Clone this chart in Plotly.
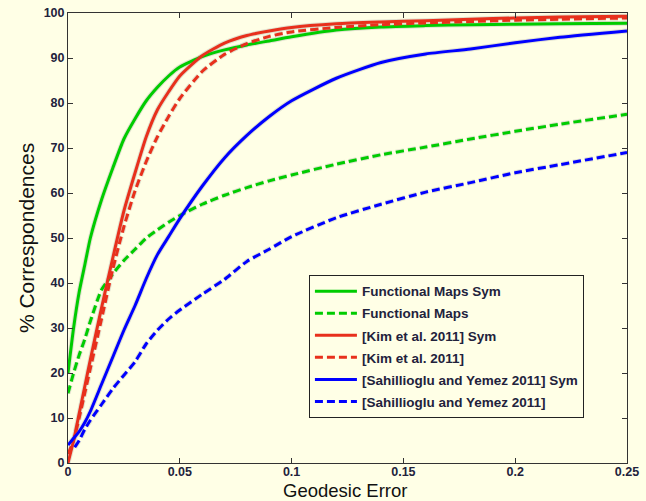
import plotly.graph_objects as go

x_common = [0, 0.0025, 0.005, 0.0075, 0.01, 0.015, 0.02, 0.025, 0.03, 0.035, 0.04, 0.045,
            0.05, 0.06, 0.07, 0.08, 0.09, 0.1, 0.12, 0.14, 0.16, 0.18, 0.2, 0.22, 0.25]

fmaps_sym = [20, 30, 38, 44, 50, 58.5, 65.5, 72, 76.5, 80.5, 83.5, 86,
             88, 90.3, 91.8, 92.9, 93.8, 94.7, 96.2, 96.9, 97.2, 97.4, 97.5, 97.6, 97.7]
fmaps = [15.5, 20, 24, 27.5, 31.5, 38.5, 42, 45, 47.5, 50, 51.8, 53.5,
         55, 57.5, 59.5, 61.2, 62.7, 64, 66.4, 68.5, 70.2, 72, 73.7, 75.3, 77.5]
kim_sym = [0, 5, 11, 17, 23, 34.5, 45.5, 56, 64.5, 72.5, 78.5, 82.5,
           86, 90.5, 93.3, 95, 96, 96.8, 97.6, 98, 98.3, 98.6, 98.9, 99.1, 99.3]
kim = [2, 5, 10, 15.5, 21, 32, 43, 52.5, 60.5, 67, 72.5, 77,
       81, 87, 90.8, 93.2, 94.8, 95.8, 96.8, 97.4, 97.8, 98.1, 98.4, 98.6, 98.9]
sahil_sym = [4, 5.5, 7, 9, 11.5, 17.5, 23.5, 29.5, 35, 41, 46.3, 50.3,
             54.3, 61.5, 67.8, 72.8, 77, 80.5, 85.5, 89, 90.9, 92, 93.4, 94.6, 96]
x_sahil = [0.003, 0.005, 0.0075, 0.01, 0.015, 0.02, 0.025, 0.03, 0.035, 0.04, 0.045,
           0.05, 0.06, 0.07, 0.08, 0.09, 0.1, 0.12, 0.14, 0.16, 0.18, 0.2, 0.22, 0.25]
sahil = [3.5, 5, 7.5, 9.5, 13, 16.5, 19.5, 22.5, 26.5, 29.5, 32,
         34, 37.5, 40.8, 44.8, 47.5, 50.3, 54.5, 57.5, 60.2, 62.3, 64.5, 66.3, 69]

x_ticks = [0, 0.05, 0.1, 0.15, 0.2, 0.25]
x_tick_labels = ["0", "0.05", "0.1", "0.15", "0.2", "0.25"]
y_ticks = [0, 10, 20, 30, 40, 50, 60, 70, 80, 90, 100]

GREEN = "#00cc00"
RED = "#e8301c"
BLUE = "#0000ff"
BG = "#ffffe6"
TXT = "#22223c"
DASH = "8px,4px"
HALO = "rgba(190,190,180,0.45)"
FONT = "Liberation Sans, Arial"

series = [
    ("Functional Maps Sym", x_common, fmaps_sym, GREEN, "solid"),
    ("Functional Maps", x_common, fmaps, GREEN, DASH),
    ("[Kim et al. 2011] Sym", x_common, kim_sym, RED, "solid"),
    ("[Kim et al. 2011]", x_common, kim, RED, DASH),
    ("[Sahillioglu and Yemez 2011] Sym", x_common, sahil_sym, BLUE, "solid"),
    ("[Sahillioglu and Yemez 2011]", x_sahil, sahil, BLUE, DASH),
]

fig = go.Figure()
for name, xs, ys, col, dash in series:
    fig.add_trace(go.Scatter(x=xs, y=ys, mode="lines", showlegend=False, hoverinfo="skip",
                             line=dict(color=HALO, width=5, dash=dash, shape="spline", smoothing=0.6)))
for i, (name, xs, ys, col, dash) in enumerate(series):
    fig.add_trace(go.Scatter(x=xs, y=ys, mode="lines", name=name, legendgroup="g%d" % i,
                             line=dict(color=col, width=3, dash=dash, shape="spline", smoothing=0.6)))

axis_common = dict(showline=True, linecolor="#333333", linewidth=1, mirror="ticks",
                   ticks="inside", ticklen=5, tickcolor="#333333", showgrid=False,
                   zeroline=False, automargin=False,
                   tickfont=dict(family=FONT, size=12.5, color=TXT, weight="bold"))

fig.update_layout(
    width=646, height=501,
    margin=dict(l=68, r=19, t=13, b=38),
    paper_bgcolor=BG, plot_bgcolor=BG,
    font=dict(family=FONT, color=TXT),
    xaxis=dict(range=[0, 0.25], tickvals=x_ticks, ticktext=x_tick_labels,
               ticklabelstandoff=-3, **axis_common),
    yaxis=dict(range=[0, 100], tickvals=y_ticks, **axis_common),
    legend=dict(x=0.431, y=0.418, xanchor="left", yanchor="top", itemwidth=42,
                traceorder="grouped", tracegroupgap=1.5,
                entrywidth=245, entrywidthmode="pixels",
                bgcolor=BG, bordercolor="#222222", borderwidth=1,
                font=dict(family=FONT, size=13.5, color=TXT, weight="bold")),
    showlegend=True,
    annotations=[
        dict(text="Geodesic Error", xref="paper", yref="paper", x=0.495, y=-0.06,
             xanchor="center", yanchor="middle", showarrow=False,
             font=dict(family=FONT, size=18.5, color="#111111")),
        dict(text="% Correspondences", xref="paper", yref="paper", x=-0.075, y=0.5,
             xanchor="center", yanchor="middle", textangle=-90, showarrow=False,
             font=dict(family=FONT, size=21, color="#111111")),
    ],
)

fig.write_html("out.html")
